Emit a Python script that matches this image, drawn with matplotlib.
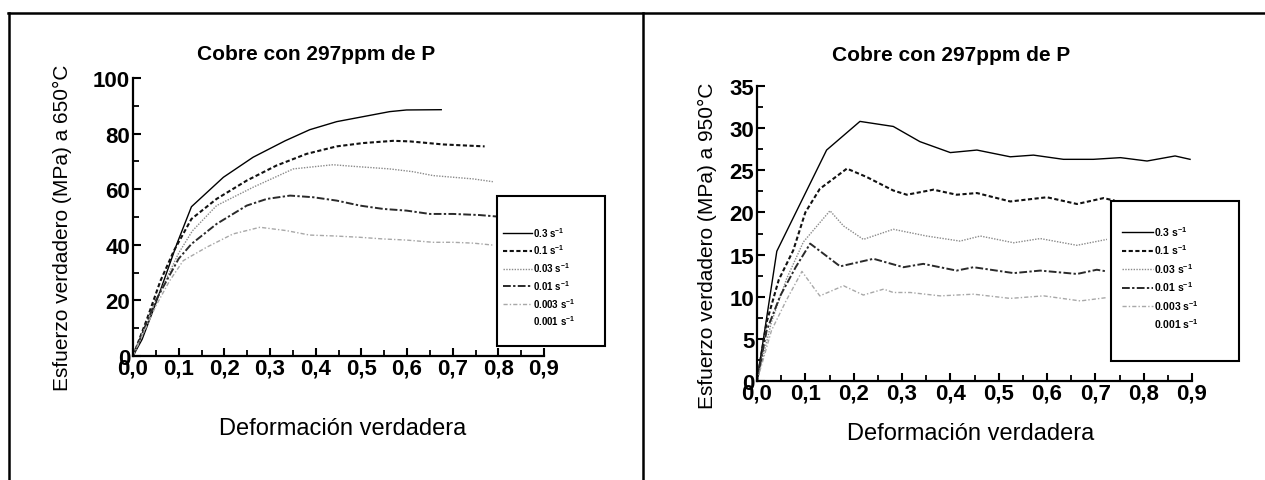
import matplotlib
matplotlib.use("Agg")
import matplotlib.pyplot as plt
from matplotlib.lines import Line2D
from matplotlib.patches import Rectangle
from matplotlib.ticker import MultipleLocator, FuncFormatter

plt.rcParams['font.family'] = ['Liberation Sans', 'DejaVu Sans']
plt.rcParams['mathtext.fontset'] = 'custom'
plt.rcParams['mathtext.rm'] = 'Liberation Sans'
plt.rcParams['mathtext.bf'] = 'Liberation Sans:bold'

title = "Cobre con 297ppm de P"
xlabel = "Deformación verdadera"
ylabel_650 = "Esfuerzo verdadero (MPa) a 650°C"
ylabel_950 = "Esfuerzo verdadero (MPa) a 950°C"
rates = ["0.3", "0.1", "0.03", "0.01", "0.003", "0.001"]

# ---- 650 °C data ----
x650_03 = [0, 0.02, 0.05, 0.096, 0.128, 0.198, 0.263, 0.333, 0.387, 0.446, 0.504, 0.562, 0.599, 0.675]
y650_03 = [0, 6, 19, 40.3, 53.7, 64.3, 71.5, 77.4, 81.4, 84.3, 86.1, 87.9, 88.5, 88.6]
x650_01 = [0, 0.03, 0.06, 0.09, 0.128, 0.183, 0.249, 0.314, 0.380, 0.446, 0.504, 0.570, 0.606, 0.679, 0.770]
y650_01 = [0, 13, 27, 38, 49.3, 56.5, 63.1, 68.5, 72.7, 75.4, 76.6, 77.4, 77.2, 76.1, 75.4]
x650_003 = [0, 0.05, 0.10, 0.13, 0.183, 0.263, 0.351, 0.438, 0.476, 0.562, 0.613, 0.657, 0.701, 0.745, 0.788]
y650_003 = [0, 20, 37, 45, 54.1, 60.7, 67.3, 68.8, 68.3, 67.3, 66.3, 64.9, 64.3, 63.7, 62.7]
x650_001 = [0, 0.05, 0.10, 0.128, 0.183, 0.249, 0.293, 0.344, 0.395, 0.446, 0.497, 0.548, 0.599, 0.650, 0.701, 0.759, 0.795]
y650_001 = [0, 20, 35, 40.3, 47.5, 54.1, 56.5, 57.7, 57.1, 55.9, 54.1, 52.9, 52.3, 51.1, 51.1, 50.7, 50.2]
x650_0003 = [0, 0.05, 0.08, 0.110, 0.161, 0.219, 0.278, 0.336, 0.387, 0.438, 0.497, 0.548, 0.599, 0.657, 0.701, 0.745, 0.788]
y650_0003 = [0, 18, 27, 34.3, 39.1, 43.9, 46.3, 45.1, 43.5, 43.2, 42.7, 42.1, 41.7, 40.9, 40.9, 40.6, 39.9]

# ---- 950 °C data ----
x950_03 = [0, 0.041, 0.144, 0.213, 0.282, 0.337, 0.400, 0.455, 0.524, 0.572, 0.634, 0.696, 0.752, 0.807, 0.865, 0.896]
y950_03 = [0, 15.4, 27.4, 30.8, 30.2, 28.4, 27.1, 27.4, 26.6, 26.8, 26.3, 26.3, 26.5, 26.1, 26.7, 26.3]
x950_01 = [0, 0.02, 0.045, 0.075, 0.10, 0.130, 0.186, 0.227, 0.282, 0.310, 0.365, 0.413, 0.455, 0.524, 0.600, 0.662, 0.717, 0.74]
y950_01 = [0, 7, 12, 15.5, 20, 22.8, 25.2, 24.2, 22.6, 22.1, 22.7, 22.1, 22.3, 21.3, 21.8, 21.0, 21.7, 21.4]
x950_003 = [0, 0.03, 0.061, 0.096, 0.151, 0.179, 0.220, 0.282, 0.351, 0.420, 0.462, 0.531, 0.586, 0.662, 0.724]
y950_003 = [0, 7, 12.1, 16.5, 20.2, 18.4, 16.8, 18.0, 17.2, 16.6, 17.2, 16.4, 16.9, 16.1, 16.8]
x950_001 = [0, 0.02, 0.048, 0.08, 0.110, 0.172, 0.241, 0.303, 0.344, 0.413, 0.448, 0.531, 0.586, 0.662, 0.703, 0.724]
y950_001 = [0, 6, 10.1, 13.5, 16.3, 13.6, 14.5, 13.5, 13.9, 13.1, 13.5, 12.8, 13.1, 12.7, 13.2, 13.0]
x950_0003 = [0, 0.03, 0.06, 0.093, 0.117, 0.130, 0.179, 0.220, 0.262, 0.282, 0.317, 0.379, 0.448, 0.524, 0.593, 0.669, 0.724]
y950_0003 = [0, 6, 9.5, 13.0, 11.1, 10.1, 11.3, 10.2, 10.9, 10.5, 10.5, 10.1, 10.3, 9.8, 10.1, 9.5, 9.9]

styles = [
    dict(color='black', lw=1.0, ls='-'),
    dict(color='#111111', lw=1.5, ls=(0, (2.0, 1.2))),
    dict(color='#8a8a8a', lw=1.0, ls=(0, (1.0, 1.0))),
    dict(color='#2a2a2a', lw=1.4, ls=(0, (4, 1.2, 1.2, 1.2))),
    dict(color='#a8a8a8', lw=1.0, ls=(0, (3, 1.5, 1, 1.5))),
    dict(color='none', lw=1.0, ls='-'),
]

W, H = 1265, 481
fig = plt.figure(figsize=(W / 100, H / 100), dpi=100)

def fx(p):
    return p / W

def fy(p):
    return 1 - p / H

def setup(ax, ymax, ymajor, yminor, ylab, lab_x, lab_y, xl_y, xl_x, title_x, title_pad):
    ax.set_xlim(0, 0.9)
    ax.set_ylim(0, ymax)
    for s in ('top', 'right'):
        ax.spines[s].set_visible(False)
    for s in ('left', 'bottom'):
        ax.spines[s].set_linewidth(1.6)
    ax.xaxis.set_major_locator(MultipleLocator(0.1))
    ax.xaxis.set_minor_locator(MultipleLocator(0.05))
    ax.yaxis.set_major_locator(MultipleLocator(ymajor))
    ax.yaxis.set_minor_locator(MultipleLocator(yminor))
    ax.xaxis.set_major_formatter(FuncFormatter(lambda v, p: f"{v:.1f}".replace('.', ',')))
    ax.yaxis.set_major_formatter(FuncFormatter(lambda v, p: f"{v:.0f}"))
    ax.tick_params(which='major', direction='in', length=6, width=1.5, labelsize=16, pad=2)
    ax.tick_params(which='minor', direction='in', length=4, width=1.3)
    ax.tick_params(axis='x', which='major', pad=1)
    for t in ax.get_xticklabels() + ax.get_yticklabels():
        t.set_fontweight('bold')
    ax.set_title(title, fontsize=15, fontweight='bold', pad=title_pad, x=title_x)
    ax.set_ylabel(ylab, fontsize=15)
    ax.yaxis.set_label_coords(lab_x, lab_y)
    ax.set_xlabel(xlabel, fontsize=17)
    ax.xaxis.set_label_coords(xl_x, xl_y)

def legend_box(ax, box, first_row, handle_x, handle_len, fsize, spacing):
    x0, y0, x1, y1 = box
    rect = Rectangle((fx(x0), fy(y1)), fx(x1 - x0), (y1 - y0) / H, transform=fig.transFigure,
                     facecolor='white', edgecolor='black', lw=1.5, zorder=4, clip_on=False)
    ax.add_patch(rect)
    handles = [Line2D([0], [0], **st) for st in styles]
    labels = [r + r" s$^{\mathbf{-1}}$" for r in rates]
    leg = ax.legend(handles, labels, loc='upper left', bbox_to_anchor=(fx(handle_x), fy(first_row)),
                    bbox_transform=fig.transFigure, frameon=False, borderpad=0, borderaxespad=0,
                    handlelength=handle_len, handletextpad=0.1, labelspacing=spacing,
                    prop={'size': fsize, 'weight': 'bold'})
    leg.set_zorder(5)

# Left panel
axL = fig.add_axes([fx(133), fy(357), fx(544 - 133), (357 - 79) / H])
Ls = [(x650_03, y650_03), (x650_01, y650_01), (x650_003, y650_003), (x650_001, y650_001), (x650_0003, y650_0003)]
for (xx, yy), st in zip(Ls, styles):
    axL.plot(xx, yy, **st)
setup(axL, 100, 20, 10, ylabel_650, -0.148, 0.464, -0.22, 0.509, 0.445, 14)
legend_box(axL, (497, 197, 605, 347), 226, 503, 3.0, 7, 0.4)

# Right panel
axR = fig.add_axes([fx(757), fy(382), fx(1192 - 757), (382 - 87) / H])
Rs = [(x950_03, y950_03), (x950_01, y950_01), (x950_003, y950_003), (x950_001, y950_001), (x950_0003, y950_0003)]
for (xx, yy), st in zip(Rs, styles):
    axR.plot(xx, yy, **st)
setup(axR, 35, 5, 2.5, ylabel_950, -0.092, 0.46, -0.14, 0.492, 0.446, 19)
legend_box(axR, (1111, 202, 1239, 362), 225, 1122, 3.0, 7.5, 0.45)

# Page frame lines
for xs, ys in [((8, W), (14, 14)), ((9, 9), (14, H)), ((643, 643), (14, H))]:
    fig.add_artist(Line2D([fx(xs[0]), fx(xs[1])], [fy(ys[0]), fy(ys[1])], transform=fig.transFigure,
                          color='black', lw=1.8))

fig.savefig("out.png", dpi=100)
